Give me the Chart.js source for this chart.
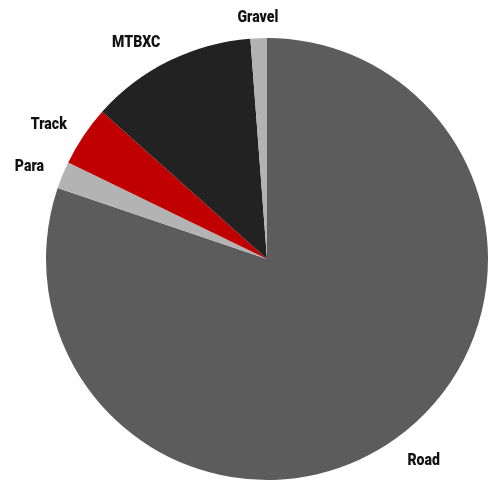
<!DOCTYPE html>
<html>
<head>
<meta charset="utf-8">
<script src="https://cdn.jsdelivr.net/npm/chart.js@4"></script>
<style>
  html, body { margin: 0; padding: 0; background: #fff; }
  #wrap { width: 490px; height: 483px; }
</style>
</head>
<body>
<div id="wrap"><canvas id="pieChart"></canvas></div>
<script>
const labels = ['Road', 'Para', 'Track', 'MTBXC', 'Gravel'];
const shares = [80.2, 2.0, 4.4, 12.2, 1.2];
const colours = ['#5c5c5c', '#b3b3b3', '#c00000', '#222222', '#b3b3b3'];

// draws each category name just outside its slice
const outerLabels = {
    id: 'outerLabels',
    afterDatasetsDraw(chart) {
        const ctx = chart.ctx;
        const arcs = chart.getDatasetMeta(0).data;
        ctx.save();
        ctx.font = '900 16px Roboto';
        ctx.fillStyle = '#111';
        ctx.textBaseline = 'middle';
        arcs.forEach((arc, i) => {
            const p = arc.getProps(['x', 'y', 'startAngle', 'endAngle', 'outerRadius']);
            const mid = (p.startAngle + p.endAngle) / 2;
            const r = p.outerRadius + 20;
            const cx = Math.cos(mid), sy = Math.sin(mid);
            let align = 'center';
            if (cx > 0.2) align = 'left';
            if (cx < -0.2) align = 'right';
            ctx.textAlign = align;
            const x = p.x + cx * r;
            const y = p.y + sy * r + (sy > 0.5 ? 6 : 0);
            ctx.save();
            ctx.translate(x, y);
            ctx.scale(0.88, 1);
            ctx.fillText(labels[i], 0, 0);
            ctx.restore();
        });
        ctx.restore();
    }
};

const ctx = document.getElementById('pieChart');
new Chart(ctx, {
    type: 'pie',
    data: {
        labels: labels,
        datasets: [{
            data: shares,
            backgroundColor: colours,
            borderWidth: 0
        }]
    },
    options: {
        responsive: true,
        maintainAspectRatio: false,
        animation: false,
        layout: { padding: { top: 38, bottom: 3, left: 46, right: 2 } },
        plugins: {
            legend: { display: false },
            tooltip: { enabled: false }
        }
    },
    plugins: [outerLabels]
});
</script>
</body>
</html>
